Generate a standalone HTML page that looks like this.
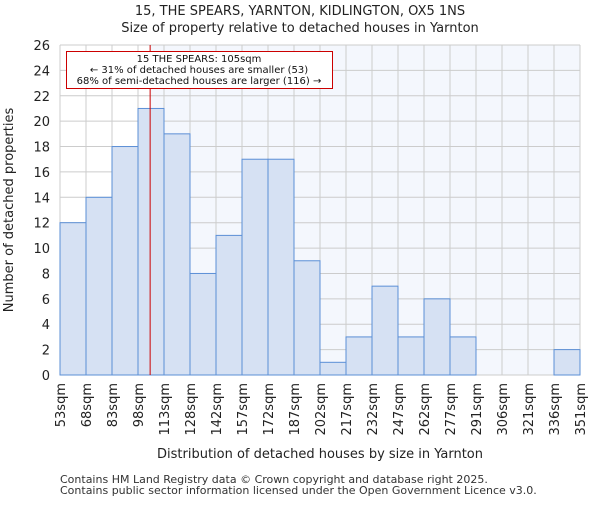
<!DOCTYPE html>
<html><head><meta charset="utf-8"><style>body{margin:0;background:#fff}svg{font-family:"DejaVu Sans","Liberation Sans",sans-serif}</style></head>
<body>
<svg id="c" width="600" height="500" xmlns="http://www.w3.org/2000/svg"></svg>
<script>
const categories=["53sqm","68sqm","83sqm","98sqm","113sqm","128sqm","142sqm","157sqm","172sqm","187sqm","202sqm","217sqm","232sqm","247sqm","262sqm","277sqm","291sqm","306sqm","321sqm","336sqm","351sqm"];
const counts=[12,14,18,21,19,8,11,17,17,9,1,3,7,3,6,3,0,0,0,2];
const yTicks=[0,2,4,6,8,10,12,14,16,18,20,22,24,26];
const propertyBin=3+7/15;
const NS="http://www.w3.org/2000/svg";
const svg=document.getElementById('c');
const L=60,R=580,T=45,B=375,n=counts.length;
const x=i=>L+(R-L)*i/n;
const y=v=>B-(B-T)*v/26;
function mk(t,a,txt){const e=document.createElementNS(NS,t);for(const k in a)e.setAttribute(k,a[k]);if(txt!=null)e.textContent=txt;svg.appendChild(e);return e;}
let e;
e=mk('rect',{x:L,y:T,width:R-L,height:B-T,fill:'#ffffff'});


e=mk('rect',{x:x(propertyBin),y:T,width:R-x(propertyBin),height:B-T,fill:'#f4f7fd'});


yTicks.forEach(v=>{e=mk('line',{x1:L,x2:R,y1:y(v),y2:y(v),stroke:'#cccccc','stroke-width':1});


e=mk('text',{x:L-10,y:y(v)+5,'text-anchor':'end','font-size':13,fill:'#222'},v);

});
for(let i=0;i<=n;i++){e=mk('line',{x1:x(i),x2:x(i),y1:T,y2:B,stroke:'#cccccc','stroke-width':1});

}
counts.forEach((v,i)=>{if(v<=0)return;e=mk('rect',{x:x(i),y:y(v),width:x(i+1)-x(i),height:B-y(v),fill:'#d6e1f3',stroke:'#5b8fd6','stroke-width':1});

});
categories.forEach((c,i)=>{e=mk('text',{transform:`translate(${x(i)+5},${B+8}) rotate(-90)`,'text-anchor':'end','font-size':13,fill:'#222'},c);

});
e=mk('line',{x1:x(propertyBin),x2:x(propertyBin),y1:T,y2:B,stroke:'#cc0000','stroke-width':1});


e=mk('rect',{x:66.5,y:51.5,width:266,height:37,fill:'#fff',stroke:'#cc0000','stroke-width':1});


[["15 THE SPEARS: 105sqm",62],["← 31% of detached houses are smaller (53)",73],["68% of semi-detached houses are larger (116) →",84]].forEach(([t,yy])=>{e=mk('text',{x:199,y:yy,'text-anchor':'middle','font-size':10,fill:'#111'},t);

});
e=mk('text',{x:300,y:15,'text-anchor':'middle','font-size':13,fill:'#222'},"15, THE SPEARS, YARNTON, KIDLINGTON, OX5 1NS");


e=mk('text',{x:300,y:32,'text-anchor':'middle','font-size':13,fill:'#222'},"Size of property relative to detached houses in Yarnton");


e=mk('text',{x:320,y:458,'text-anchor':'middle','font-size':13,fill:'#222'},"Distribution of detached houses by size in Yarnton");


e=mk('text',{transform:'translate(13,210) rotate(-90)','text-anchor':'middle','font-size':13,fill:'#222'},"Number of detached properties");


e=mk('text',{x:60,y:483,'font-size':11,fill:'#333'},"Contains HM Land Registry data © Crown copyright and database right 2025.");


e=mk('text',{x:60,y:494,'font-size':11,fill:'#333'},"Contains public sector information licensed under the Open Government Licence v3.0.");


</script>
</body></html>
